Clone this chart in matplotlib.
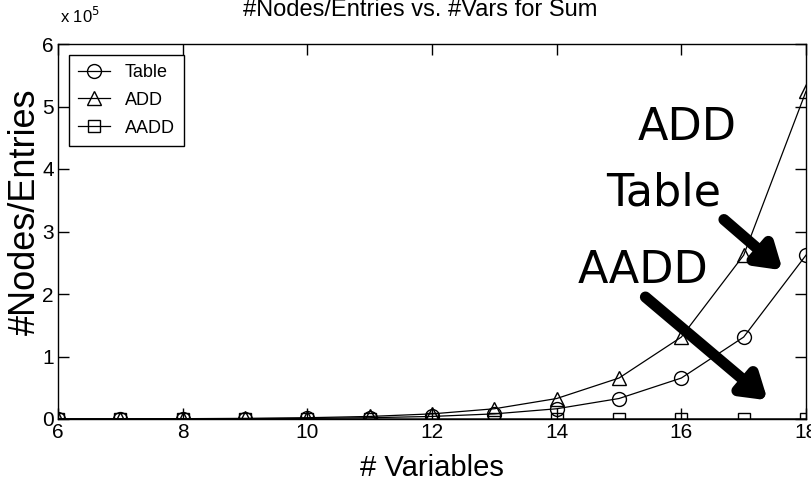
import numpy as np
import matplotlib
matplotlib.use('Agg')
from matplotlib import pyplot as plt
from matplotlib.ticker import FuncFormatter

plt.rcParams['font.family'] = ['Liberation Sans', 'DejaVu Sans']

# 数据
n_vars = [6, 7, 8, 9, 10, 11, 12, 13, 14, 15, 16, 17, 18]
table = [64, 128, 256, 512, 1024, 2048, 4096, 8192, 16384, 32768, 65536, 131072, 262144]
add = [127, 255, 511, 1023, 2047, 4095, 8191, 16383, 32767, 65535, 131071, 262143, 524287]
aadd = [21, 28, 36, 45, 55, 66, 78, 91, 105, 120, 136, 153, 171]
x_ticks = [6, 8, 10, 12, 14, 16, 18]
y_ticks = [0, 1e5, 2e5, 3e5, 4e5, 5e5, 6e5]

fig = plt.figure(figsize=(8.11, 4.95), dpi=100)
ax = fig.add_axes([58 / 811, 76 / 495, 748 / 811, 375 / 495])

mk = dict(color='black', lw=0.9, mfc='none', mec='black', mew=1.0)
ax.plot(n_vars, table, marker='o', ms=10, label='Table', **mk)
ax.plot(n_vars, add, marker='^', ms=10, label='ADD', **mk)
ax.plot(n_vars, aadd, marker='s', ms=8, label='AADD', **mk)

ax.set_xlim(6, 18)
ax.set_ylim(0, 6e5)
ax.set_xticks(x_ticks)
ax.set_yticks(y_ticks)
ax.yaxis.set_major_formatter(FuncFormatter(lambda v, p: '%d' % round(v / 1e5)))
ax.tick_params(direction='in', length=8, width=1, top=True, right=True,
               labelsize=15, pad=3)
for s in ax.spines.values():
    s.set_linewidth(1.0)

fig.text(60 / 811, 1 - 16 / 495, r'x 10$^5$', fontsize=12, ha='left', va='center')

leg = ax.legend(loc='upper left', fontsize=13, fancybox=False, edgecolor='black',
                framealpha=1, borderaxespad=0.6, handlelength=1.8, labelspacing=0.6,
                borderpad=0.5)
leg.get_frame().set_linewidth(1.0)

fig.text(420 / 811, 1 - 10 / 495, '#Nodes/Entries vs. #Vars for Sum', fontsize=17,
         ha='center', va='center')
fig.text(25 / 811, 1 - 212 / 495, '#Nodes/Entries', fontsize=26, rotation=90,
         ha='center', va='center')
fig.text(432 / 811, 1 - 468 / 495, '# Variables', fontsize=21, ha='center', va='center')

# 标注
hand = dict(fontsize=32, family=['DejaVu Sans'], ha='center', va='center')
ax.text(16.09, 4.67e5, 'ADD', **hand)
ax.text(15.71, 3.62e5, 'Table', **hand)
ax.text(15.39, 2.38e5, 'AADD', **hand)
arw = dict(arrowstyle='-|>,head_width=0.9,head_length=1.4', lw=8, color='black')
ax.annotate('', xy=(17.66, 2.35e5), xytext=(16.65, 3.22e5), arrowprops=arw)
ax.annotate('', xy=(17.42, 0.27e5), xytext=(15.39, 1.98e5), arrowprops=arw)

fig.savefig('out.png', dpi=100)
